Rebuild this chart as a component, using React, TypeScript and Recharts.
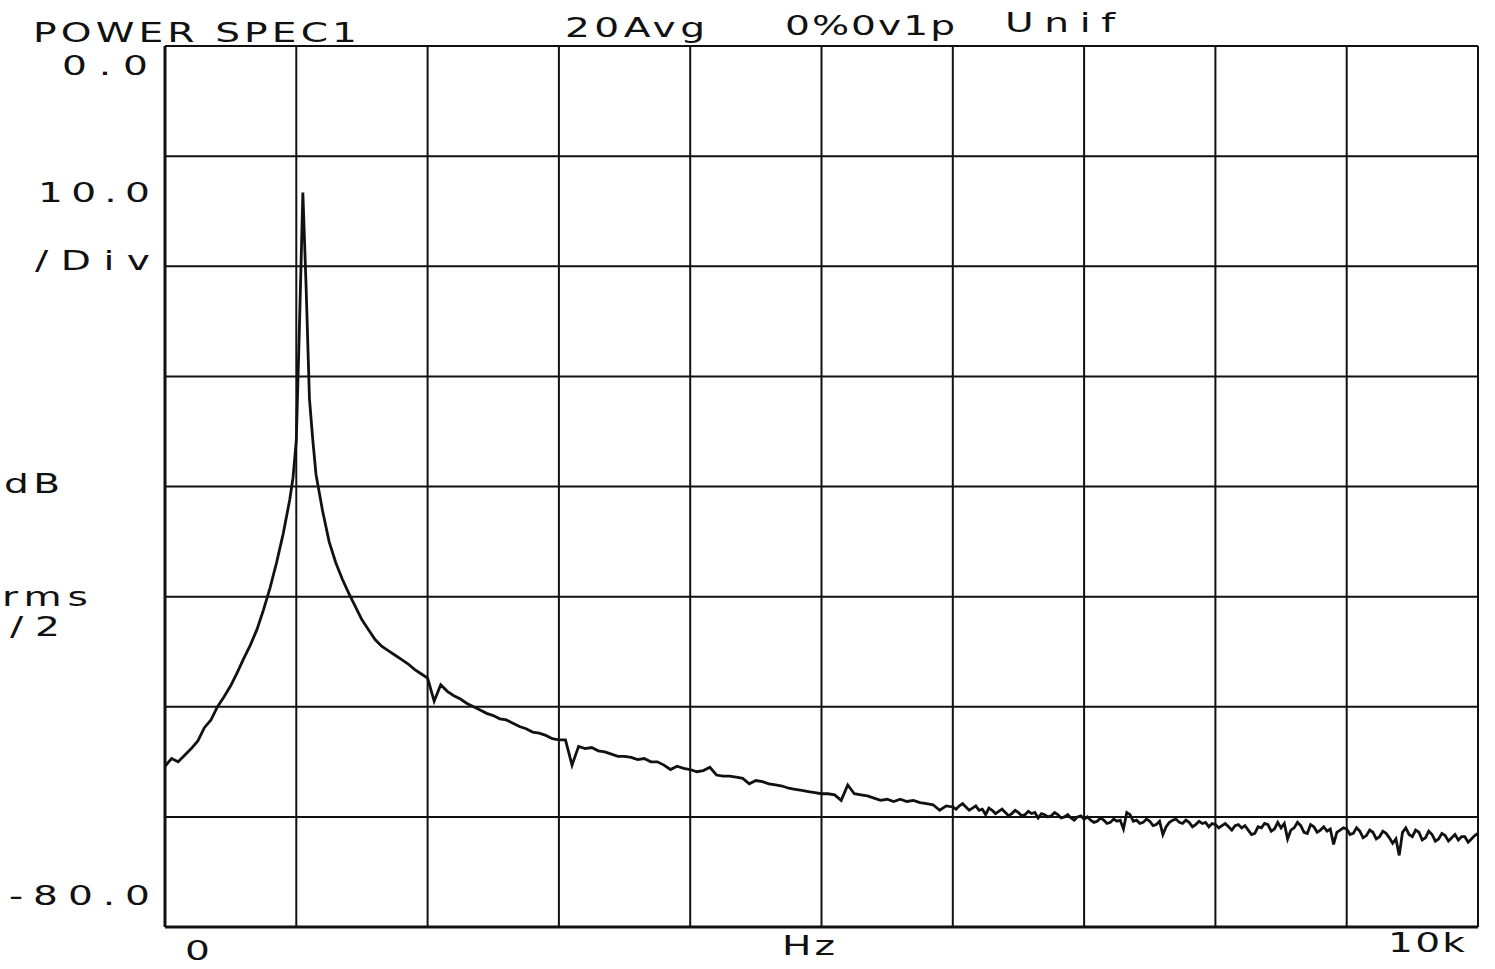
import React from "react";
import { LineChart, Line, XAxis, YAxis, CartesianGrid } from "recharts";

// frequency bins (Hz)
const freqHz = [
  0, 50, 100, 150, 200, 250, 300, 350, 400, 450,
  500, 550, 600, 650, 700, 750, 800, 850, 900, 950,
  975, 1000, 1025, 1050, 1075, 1100, 1125, 1150,
  1200, 1250, 1300, 1350, 1400, 1450, 1500, 1550, 1600, 1650,
  1700, 1750, 1800, 1850, 1900, 1950, 2000, 2050, 2100, 2150,
  2200, 2250, 2300, 2350, 2400, 2450, 2500, 2550, 2600, 2650,
  2700, 2750, 2800, 2850, 2900, 2950, 3000, 3050, 3100, 3150,
  3200, 3250, 3300, 3350, 3400, 3450, 3500, 3550, 3600, 3650,
  3700, 3750, 3800, 3850, 3900, 3950, 4000, 4050, 4100, 4150,
  4200, 4250, 4300, 4350, 4400, 4450, 4500, 4550, 4600, 4650,
  4700, 4750, 4800, 4850, 4900, 4950, 5000, 5050, 5100, 5150,
  5200, 5250, 5300, 5350, 5400, 5450, 5500, 5550, 5600, 5650,
  5700, 5750, 5800, 5850, 5900, 5950,
  // finer bins where the trace gets noisy
  6000, 6025, 6050, 6075, 6100, 6125, 6150, 6175, 6200, 6225, 6250, 6275, 6300, 6325, 6350, 6375, 6400, 6425, 6450, 6475,
  6500, 6525, 6550, 6575, 6600, 6625, 6650, 6675, 6700, 6725, 6750, 6775, 6800, 6825, 6850, 6875, 6900, 6925, 6950, 6975,
  7000, 7025, 7050, 7075, 7100, 7125, 7150, 7175, 7200, 7225, 7250, 7275, 7300, 7325, 7350, 7375, 7400, 7425, 7450, 7475,
  7500, 7525, 7550, 7575, 7600, 7625, 7650, 7675, 7700, 7725, 7750, 7775, 7800, 7825, 7850, 7875, 7900, 7925, 7950, 7975,
  8000, 8025, 8050, 8075, 8100, 8125, 8150, 8175, 8200, 8225, 8250, 8275, 8300, 8325, 8350, 8375, 8400, 8425, 8450, 8475,
  8500, 8525, 8550, 8575, 8600, 8625, 8650, 8675, 8700, 8725, 8750, 8775, 8800, 8825, 8850, 8875, 8900, 8925, 8950, 8975,
  9000, 9025, 9050, 9075, 9100, 9125, 9150, 9175, 9200, 9225, 9250, 9275, 9300, 9325, 9350, 9375, 9400, 9425, 9450, 9475,
  9500, 9525, 9550, 9575, 9600, 9625, 9650, 9675, 9700, 9725, 9750, 9775, 9800, 9825, 9850, 9875, 9900, 9925, 9950, 9975,
  10000,
];

// power spectrum level (dB) at each bin
const levelDb = [
  -65.4, -64.7, -65.0, -64.4, -63.8, -63.1, -61.9, -61.2, -60.0, -59.1,
  -58.1, -56.9, -55.6, -54.4, -53.0, -51.2, -49.2, -46.9, -44.3, -41.2,
  -39.2, -35.8, -25.0, -13.3, -22.0, -32.0, -35.7, -38.9,
  -42.2, -45.0, -46.9, -48.4, -49.7, -50.9, -52.1, -53.0, -53.9, -54.5,
  -54.9, -55.3, -55.7, -56.1, -56.6, -57.0, -57.4, -59.5, -58.0, -58.6,
  -59.0, -59.3, -59.7, -60.0, -60.3, -60.6, -60.8, -61.1, -61.2, -61.5,
  -61.8, -62.0, -62.3, -62.4, -62.6, -62.9, -63.0, -63.0, -65.3, -63.6,
  -63.8, -63.7, -64.0, -64.1, -64.3, -64.5, -64.5, -64.6, -64.8, -64.7,
  -65.0, -65.0, -65.3, -65.7, -65.4, -65.6, -65.7, -65.9, -65.8, -65.5,
  -66.2, -66.3, -66.3, -66.4, -66.5, -67.0, -66.7, -66.8, -67.0, -67.1,
  -67.2, -67.4, -67.5, -67.6, -67.7, -67.8, -67.9, -67.9, -68.0, -68.5,
  -67.1, -67.9, -68.0, -68.1, -68.3, -68.5, -68.4, -68.6, -68.4, -68.6,
  -68.5, -68.7, -68.8, -68.9, -69.4, -69.0,
  -69.1, -69.3, -69.0, -68.8, -69.1, -69.4, -69.2, -69.0, -69.4, -69.3, -69.8, -69.2, -69.4, -69.7, -69.5, -69.3, -69.6, -69.9, -69.7, -69.4,
  -69.6, -69.9, -69.8, -69.5, -69.7, -69.6, -70.1, -69.7, -69.8, -70.0, -69.9, -69.6, -69.8, -70.1, -70.0, -69.8, -70.1, -70.3, -70.0, -69.9,
  -70.2, -70.0, -70.3, -70.5, -70.4, -70.1, -70.3, -70.6, -70.5, -70.2, -70.4, -70.3, -71.1, -69.6, -69.8, -70.4, -70.3, -70.6, -70.5, -70.2,
  -70.4, -70.8, -70.7, -70.4, -71.6, -70.9, -70.5, -70.3, -70.2, -70.5, -70.6, -70.3, -70.5, -70.9, -70.7, -70.4, -70.6, -70.5, -70.9, -70.6,
  -70.7, -71.0, -70.8, -70.6, -70.9, -71.2, -70.8, -70.7, -71.0, -70.8, -71.2, -71.6, -71.5, -70.9, -71.0, -70.6, -70.7, -71.3, -71.1, -70.5,
  -71.0, -70.6, -72.0, -71.2, -71.0, -70.5, -70.8, -71.4, -71.5, -70.7, -70.9, -71.4, -71.2, -70.9, -71.3, -71.1, -72.5, -71.4, -71.2, -71.0,
  -71.1, -71.6, -71.5, -71.0, -71.3, -71.9, -71.7, -71.2, -71.4, -72.0, -71.8, -71.3, -71.5, -71.9, -72.4, -72.0, -73.5, -71.4, -71.0, -71.6,
  -71.8, -71.2, -71.4, -72.1, -71.9, -71.3, -71.6, -72.2, -72.0, -71.5, -71.7, -72.2, -71.9, -71.6, -72.1, -71.8, -71.8, -72.3, -72.0, -71.7,
  -71.5,
];

const xTicks = [0, 1000, 2000, 3000, 4000, 5000, 6000, 7000, 8000, 9000, 10000];
const yTicks = [0, -10, -20, -30, -40, -50, -60, -70, -80];

const data = freqHz.map((f, i) => ({ f, db: levelDb[i] }));

const FONT = "'DejaVu Sans', sans-serif";
const INK = "#111";
const STRETCH = 1.45; // plotter letters are wide

function PlotText({ x, y, len, anchor = "start", children }: any) {
  return (
    <g transform={`translate(${x},${y}) scale(${STRETCH},1)`}>
      <text
        x={0}
        y={0}
        textLength={len / STRETCH}
        lengthAdjust="spacing"
        textAnchor={anchor}
        fontFamily={FONT}
        fontSize={27}
        fill={INK}
      >
        {children}
      </text>
    </g>
  );
}

const XTick = (props: any) => {
  const { x, payload } = props;
  if (payload.value === 0) return <PlotText x={x + 20} y={960} len={21}>0</PlotText>;
  if (payload.value === 10000)
    return <PlotText x={x - 13} y={952} len={77} anchor="end">10k</PlotText>;
  return <g />;
};

const YTick = (props: any) => {
  const { y, payload } = props;
  if (payload.value === 0) return <PlotText x={148} y={y + 29} len={86} anchor="end">0.0</PlotText>;
  if (payload.value === -80)
    return <PlotText x={150} y={y - 22} len={141} anchor="end">-80.0</PlotText>;
  return <g />;
};

export default function App() {
  return (
    <div style={{ position: "absolute", left: 0, top: 0, width: 1495, height: 969, background: "#fff" }}>
      <LineChart
        width={1495}
        height={969}
        data={data}
        margin={{ top: 46, right: 17, left: 0, bottom: 0 }}
      >
        <CartesianGrid stroke={INK} strokeWidth={2} />
        <XAxis
          dataKey="f"
          type="number"
          domain={[0, 10000]}
          ticks={xTicks}
          interval={0}
          height={42}
          tickLine={false}
          axisLine={{ stroke: INK, strokeWidth: 3 }}
          tick={XTick}
        />
        <YAxis
          type="number"
          domain={[-80, 0]}
          ticks={yTicks}
          interval={0}
          width={165}
          tickLine={false}
          axisLine={{ stroke: INK, strokeWidth: 3 }}
          tick={YTick}
        />
        <Line
          type="linear"
          dataKey="db"
          stroke={INK}
          strokeWidth={2.8}
          dot={false}
          isAnimationActive={false}
        />
      </LineChart>
      <svg
        width={1495}
        height={969}
        style={{ position: "absolute", left: 0, top: 0, pointerEvents: "none" }}
      >
        <PlotText x={33} y={42} len={324}>POWER SPEC1</PlotText>
        <PlotText x={565} y={37} len={140}>20Avg</PlotText>
        <PlotText x={785} y={35} len={170}>0%0v1p</PlotText>
        <PlotText x={1005} y={32} len={110}>Unif</PlotText>
        <PlotText x={38} y={202} len={112}>10.0</PlotText>
        <PlotText x={35} y={270} len={115}>/Div</PlotText>
        <PlotText x={4} y={493} len={56}>dB</PlotText>
        <PlotText x={2} y={606} len={86}>rms</PlotText>
        <PlotText x={10} y={636} len={50}>/2</PlotText>
        <PlotText x={782} y={955} len={53}>Hz</PlotText>
      </svg>
    </div>
  );
}
